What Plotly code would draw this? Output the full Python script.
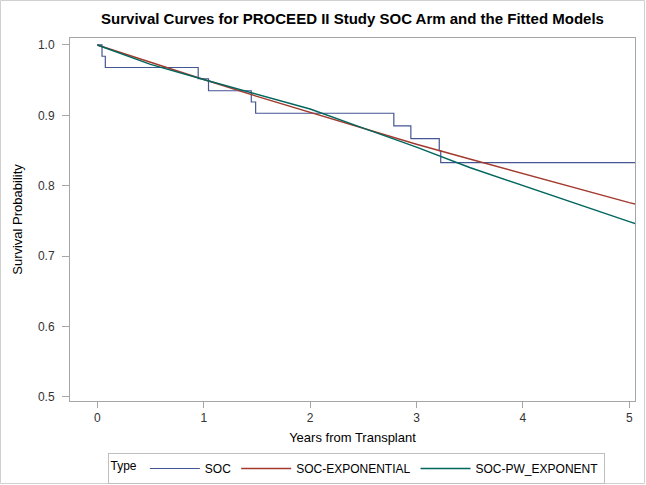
import plotly.graph_objects as go

# Kaplan-Meier estimate for the SOC arm (step function)
soc_years = [0, 0.044, 0.075, 0.948, 1.045, 1.447, 1.488, 2.787, 2.947, 3.214, 3.228, 5.06]
soc_surv = [1.000, 0.984, 0.968, 0.952, 0.935, 0.919, 0.903, 0.885, 0.867, 0.850, 0.833, 0.833]

# Fitted model curves evaluated on a common grid
model_years = [0, 0.5, 1, 1.5, 2, 2.5, 3, 3.5, 4, 4.5, 5, 5.06]
exp_surv = [1.000, 0.975, 0.951, 0.927, 0.904, 0.881, 0.859, 0.838, 0.817, 0.796, 0.776, 0.774]
pw_surv = [1.000, 0.9725, 0.951, 0.930, 0.909, 0.882, 0.855, 0.826, 0.800, 0.774, 0.749, 0.746]

x_ticks = [0, 1, 2, 3, 4, 5]
y_ticks = [0.5, 0.6, 0.7, 0.8, 0.9, 1.0]

FONT = "Liberation Sans, Arial, sans-serif"
AXIS_GREY = "#a6a6a6"
TEXT = "#333333"

fig = go.Figure()
fig.add_trace(go.Scatter(x=soc_years, y=soc_surv, mode="lines", name="SOC",
                         line=dict(color="#445694", width=1.2, shape="hv")))
fig.add_trace(go.Scatter(x=model_years, y=exp_surv, mode="lines", name="SOC-EXPONENTIAL",
                         line=dict(color="#A23A2E", width=1.4)))
fig.add_trace(go.Scatter(x=model_years, y=pw_surv, mode="lines", name="SOC-PW_EXPONENT",
                         line=dict(color="#01665E", width=1.4)))

L, R, T, B = 70, 11, 38, 84
W, H = 646, 485
pw, ph = W - L - R, H - T - B

fig.update_layout(
    width=W, height=H,
    margin=dict(l=L, r=R, t=T, b=B, autoexpand=False),
    paper_bgcolor="white", plot_bgcolor="white",
    font=dict(family=FONT, size=12, color=TEXT),
    title=dict(text="<b>Survival Curves for PROCEED II Study SOC Arm and the Fitted Models</b>",
               x=(L + pw / 2) / W, xanchor="center", y=1 - 19 / H, yanchor="middle",
               font=dict(family=FONT, size=15, color="black")),
    showlegend=True,
    legend=dict(orientation="h", x=(356 - L) / pw, xanchor="center",
                y=-(453 - (T + ph)) / ph, yanchor="top",
                bordercolor="#bfbfbf", borderwidth=1, bgcolor="white",
                title=dict(text="Type", side="left", font=dict(size=12, color="black")),
                font=dict(size=12, color="black"), itemwidth=50, valign="middle",
                tracegroupgap=0),
)

fig.update_xaxes(
    range=[-0.257, 5.054], tickvals=x_ticks, ticktext=[str(v) for v in x_ticks],
    showgrid=False, zeroline=False, showline=True, linecolor=AXIS_GREY, linewidth=1, mirror=True,
    ticks="outside", ticklen=6, tickcolor=AXIS_GREY,
    title=dict(text="Years from Transplant", font=dict(size=13, color="black"), standoff=8),
    tickfont=dict(size=12, color=TEXT),
)
fig.update_yaxes(
    range=[0.4943, 1.0099], tickvals=y_ticks, ticktext=[f"{v:.1f}" for v in y_ticks],
    showgrid=False, zeroline=False, showline=True, linecolor=AXIS_GREY, linewidth=1, mirror=True,
    ticks="outside", ticklen=7, tickcolor=AXIS_GREY, ticklabelstandoff=5,
    title=dict(text="Survival Probability", font=dict(size=13, color="black"), standoff=12),
    tickfont=dict(size=12, color=TEXT),
)

# thin grey border around the whole graphic
fig.add_shape(type="rect", xref="paper", yref="paper",
              x0=(0.5 - L) / pw, x1=(W - 1.5 - L) / pw,
              y0=-(H - 1.5 - T - ph) / ph, y1=1 + (T - 0.5) / ph,
              line=dict(color="#d0d0d0", width=1), fillcolor="rgba(0,0,0,0)", layer="below")

fig.write_html("out.html")
